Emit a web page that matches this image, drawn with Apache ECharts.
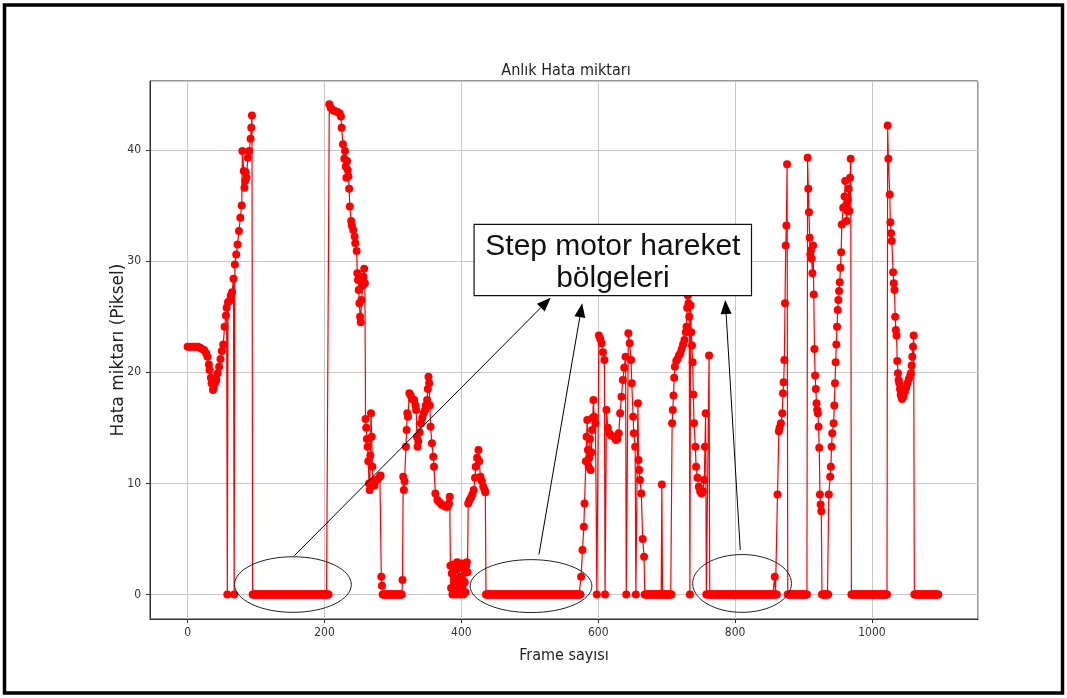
<!DOCTYPE html>
<html><head><meta charset="utf-8">
<script src="https://cdn.jsdelivr.net/npm/echarts@6/dist/echarts.min.js"></script>
<style>html,body{margin:0;padding:0;background:#fff}#c{width:1067px;height:698px}</style>
</head><body><div id="c"></div>
<script>
// ---- text ----
const titleText = 'Anlık Hata miktarı';
const xName = 'Frame sayısı';
const yName = 'Hata miktarı (Piksel)';
const boxLines = ['Step motor hareket', 'bölgeleri'];

// ---- data: [frame, error] ----
const segA = [[0,22.3],[3,22.3],[6,22.3],[9,22.3],[12,22.3],[15,22.3],[18,22.2],[21,22.1],[24,22.0],[27,21.7],[29,21.4],[31,20.7],[32,20.2],[34,19.5],[35,19.0],[37,18.4],[38,18.6],[40,19.0],[42,19.3],[44,19.9],[46,20.5],[48,21.2],[50,21.9],[52,22.5],[54,24.1],[56,25.1],[57,25.8],[58,0],[59,26.3],[61,26.4],[63,26.9],[65,27.2],[67,28.4],[68,0],[69,29.7],[71,30.6],[73,31.5],[75,32.7],[77,33.9],[79,35.0],[80,39.9],[82,38.1],[83,36.6],[84,37.2],[85,38.0],[86,37.5],[88,39.3],[90,39.9],[92,41.0],[93,42.0],[94,43.1]];
const segB = [[207,44.1],[209,43.8],[212,43.6],[215,43.5],[219,43.4],[222,43.3],[224,43.0],[225,42.0],[227,40.5],[229,39.2],[230,39.9],[231,38.5],[232,37.5],[233,39.0],[234,38.2],[235,37.6],[236,36.5],[237,34.9],[239,33.6],[240,33.2],[242,32.8],[244,32.2],[245,31.6],[247,30.9],[248,28.9],[249,28.3],[250,27.4],[251,26.2],[252,25.0],[253,24.5],[254,26.5],[256,27.8],[257,28.6],[258,29.3],[259,28.0],[260,15.8],[261,15.0],[262,14.0],[263,13.3],[264,12.0],[265,10.0],[266,9.4],[267,12.5],[268,16.3],[269,14.2],[270,11.5],[271,10.2],[273,9.8],[275,10.3],[278,10.4],[281,10.6],[282,10.7],[283,1.6],[284,0.8]];
const segC = [[314,1.3],[315,10.6],[316,9.4],[317,10.2],[319,13.3],[320,14.8],[321,16.3],[322,16.0],[324,18.1],[326,17.9],[328,17.6],[331,17.5],[333,17.0],[334,16.6],[335,14.2],[336,13.3],[337,13.8],[339,14.6],[341,15.4],[343,15.9],[345,16.3],[347,16.6],[348,17.0],[350,17.5],[351,18.5],[352,19.6],[353,19.0],[354,17.0],[355,15.1],[357,13.6],[359,12.4],[360,11.5],[362,9.1],[365,8.5],[368,8.3],[371,8.1],[374,8.0],[377,7.9],[380,7.9],[382,8.2],[383,8.8]];
const segD = [[384,2.6],[385,0.6],[386,1.9],[387,0],[388,2.7],[389,1.2],[390,0.2],[391,2.2],[392,0.8],[393,0],[394,2.9],[395,1.4],[396,0.3],[397,2.4],[398,0],[399,1.6],[400,0.5],[401,2.8],[402,0.9],[403,0],[404,2.2],[405,1.1],[406,0.2],[407,2.6],[408,2.9],[409,2.0]];
const segE = [[410,8.2],[412,8.5],[414,8.7],[416,9.0],[418,9.4],[420,10.5],[421,11.5],[423,12.3],[425,13.0],[426,12.0],[428,10.6],[430,10.2],[432,9.7],[434,9.4],[435,9.2]];
const segF = [[575,1.6],[577,4.0],[579,6.1],[580,8.2],[582,12.0],[583,14.2],[584,15.7],[585,13.0],[586,11.5],[587,12.3],[588,14.0],[589,11.2],[590,12.8],[591,14.8],[592,15.9],[593,17.5],[594,16.0],[596,15.4],[598,0],[601,23.3],[603,23.0],[605,22.6],[607,21.8],[609,21.1],[610,0],[612,16.6],[614,15.0],[616,14.5],[619,14.3],[623,14.2],[626,13.9],[628,14.0],[630,14.5],[632,16.3],[634,17.8],[636,19.3],[638,20.4],[640,21.4],[641,0],[644,23.5],[646,22.6],[648,21.1],[649,19.0],[651,16.0],[652,14.5],[654,13.3],[655,0],[658,17.2],[659,12.1],[660,11.2],[661,10.3],[663,9.1],[665,5.0],[667,3.4],[693,9.9]];
const segG = [[708,15.4],[709,16.6],[710,17.9],[711,19.5],[712,20.5],[714,21.0],[716,21.2],[718,21.5],[720,21.7],[722,22.1],[724,22.5],[726,22.9],[728,23.6],[729,24.1],[730,25.8],[731,26.9],[732,26.2],[733,25.0],[734,0],[735,26.0],[736,23.6],[737,22.4],[738,20.9],[739,18.0],[740,15.4],[742,13.3],[743,11.5],[745,10.5],[747,9.7],[749,9.3],[751,9.1],[753,9.3],[755,10.3],[756,13.3],[757,16.3],[762,21.5]];
const segH = [[858,1.6],[862,9.0],[864,14.7],[865,15.0],[867,15.4],[869,16.3],[870,18.1],[871,19.1],[872,21.1],[873,26.2],[874,31.4],[875,33.2],[876,38.7]];
const segI = [[906,39.3],[907,36.5],[908,34.4],[909,32.1],[910,30.6],[911,31.0],[912,30.2],[913,28.9],[914,31.4],[915,27.0],[916,22.1],[917,19.7],[918,18.5],[919,17.2],[920,16.6],[921,16.3],[922,15.1],[923,13.2],[924,9.0],[925,8.1],[926,7.5]];
const segJ = [[937,9.0],[939,10.6],[940,11.5],[941,13.3],[942,14.5],[944,15.4],[945,17.0],[946,19.0],[947,20.9],[948,22.5],[949,24.1],[950,25.6],[951,26.5],[952,27.3],[953,28.1],[954,29.4],[955,30.8],[956,33.3],[958,34.8],[960,35.8],[961,37.2],[962,35.0],[963,33.6],[964,34.5],[965,35.5],[966,36.5],[967,34.5],[968,37.5],[969,39.2]];
const segK = [[1023,42.2],[1024,39.2],[1026,36.0],[1027,33.5],[1028,32.5],[1029,31.8],[1031,29.0],[1032,28.0],[1033,27.4],[1034,25.0],[1035,23.8],[1036,23.3],[1037,21.0],[1038,19.9],[1039,19.3],[1040,19.0],[1041,18.5],[1042,18.0],[1043,17.8],[1044,17.6],[1046,17.8],[1048,18.2],[1050,18.6],[1052,19.0],[1054,19.4],[1056,19.7],[1057,19.9],[1058,20.6],[1059,21.4],[1060,22.3],[1061,23.3]];
// frames (inclusive ranges) where the error is exactly 0
const zeroRuns = [[95,206],[285,313],[436,574],[668,692],[694,707],[758,761],[763,857],[859,861],[877,905],[927,936],[970,1022],[1062,1097]];

// ---- annotations (data coordinates) ----
const ellipses = [[153.9,0.9,85.3,2.5],[501.8,0.76,89,2.38],[810.2,1.0,72.2,2.6]]; // cx, cy, rx, ry
const arrows = [[156,3.5,530.5,26.7],[513.4,3.6,576.6,26.2],[807.6,4.0,785.7,26.5]]; // from -> to
const box = [418.6,33.3,824,26.9]; // x0, yTop, x1, yBottom
const boxTextPos = [[621.4,31.3],[621.4,28.4]];

// ---- build series ----
const pts = [];
[segA,segB,segC,segD,segE,segF,segG,segH,segI,segJ,segK].forEach(s => s.forEach(p => pts.push(p)));
zeroRuns.forEach(([a,b]) => { for (let f = a; f <= b; f++) pts.push([f,0]); });
pts.sort((p,q) => p[0]-q[0]);

const condensed = "'DejaVu Sans Condensed', 'DejaVu Sans', sans-serif";
const chart = echarts.init(document.getElementById('c'), null, {renderer:'canvas'});
const option = {
  animation: false,
  backgroundColor: '#fff',
  grid: {left:150, right:89, top:81, bottom:79, show:true, borderColor:'#333', borderWidth:1, containLabel:false},
  xAxis: {
    type:'value', min:-55, max:1155, splitNumber:6,
    name:xName, nameLocation:'middle', nameGap:29, nameMoveOverlap:false,
    nameTextStyle:{fontFamily:condensed, fontSize:16, color:'#222'},
    axisLine:{show:true, onZero:false, lineStyle:{color:'#333'}},
    axisTick:{show:true, inside:false, length:4, lineStyle:{color:'#333'}},
    axisLabel:{margin:8, fontFamily:condensed, fontSize:12, color:'#333', showMinLabel:false, showMaxLabel:false,
      formatter: v => (Math.abs(v % 200) < 1e-6 ? String(v) : '')},
    splitLine:{show:true, lineStyle:{color:'#c8c8c8', width:1}}
  },
  yAxis: {
    type:'value', min:-2.2, max:46.2,
    name:yName, nameLocation:'middle', nameGap:23, nameRotate:90, nameMoveOverlap:false,
    nameTextStyle:{fontFamily:"'DejaVu Sans', sans-serif", fontSize:17, color:'#222'},
    axisLine:{show:true, onZero:false, lineStyle:{color:'#333'}},
    axisTick:{show:true, inside:false, length:4, lineStyle:{color:'#333'}},
    axisLabel:{margin:9, fontFamily:condensed, fontSize:12, color:'#333', showMinLabel:false, showMaxLabel:false,
      formatter: v => (Math.abs(v % 10) < 1e-6 ? String(v) : '')},
    splitLine:{show:true, lineStyle:{color:'#c8c8c8', width:1}}
  },
  series: [{
    type:'line', data:pts, symbol:'circle', symbolSize:8, showAllSymbol:true,
    lineStyle:{color:'#ff0000', width:1.2}, itemStyle:{color:'#ff0000'}, silent:true, z:2
  }]
};
chart.setOption(option);

function px(p){ return chart.convertToPixel({gridIndex:0}, p); }
const g = [];
// outer frame
g.push({type:'rect', shape:{x:4.5, y:5, width:1058, height:688}, style:{fill:null, stroke:'#000', lineWidth:3.5}, z:100});
// title, centred on plot
const tl = px([-55,46.2]), br = px([1155,-2.2]);
g.push({type:'text', x:(tl[0]+br[0])/2 + 2, y:tl[1]-10, style:{text:titleText, font:"16px 'DejaVu Sans Condensed', 'DejaVu Sans'", fill:'#222', align:'center', verticalAlign:'middle'}, z:100});
// ellipses
ellipses.forEach(([cx,cy,rx,ry]) => {
  const c = px([cx,cy]); const r1 = px([cx+rx,cy]); const r2 = px([cx,cy+ry]);
  g.push({type:'ellipse', shape:{cx:c[0], cy:c[1], rx:r1[0]-c[0], ry:c[1]-r2[1]}, style:{fill:null, stroke:'#222', lineWidth:1}, z:50});
});
// arrows
arrows.forEach(([x0,y0,x1,y1]) => {
  const a = px([x0,y0]), b = px([x1,y1]);
  const dx = b[0]-a[0], dy = b[1]-a[1], L = Math.hypot(dx,dy), ux = dx/L, uy = dy/L;
  const hl = 14, hw = 5.5;
  const base = [b[0]-ux*hl, b[1]-uy*hl];
  g.push({type:'line', shape:{x1:a[0], y1:a[1], x2:base[0], y2:base[1]}, style:{stroke:'#000', lineWidth:1}, z:50});
  g.push({type:'polygon', shape:{points:[[b[0],b[1]],[base[0]-uy*hw, base[1]+ux*hw],[base[0]+uy*hw, base[1]-ux*hw]]}, style:{fill:'#000'}, z:50});
});
// annotation box
const b0 = px([box[0],box[1]]), b1 = px([box[2],box[3]]);
g.push({type:'rect', shape:{x:b0[0], y:b0[1], width:b1[0]-b0[0], height:b1[1]-b0[1]}, style:{fill:'#fff', stroke:'#111', lineWidth:1.2}, z:60});
boxLines.forEach((t,i) => {
  const p = px(boxTextPos[i]);
  g.push({type:'text', x:p[0], y:p[1], style:{text:t, font:"30px 'Liberation Sans', Arial, sans-serif", fill:'#111', align:'center', verticalAlign:'middle'}, z:61});
});
chart.setOption({graphic:g});
</script></body></html>
